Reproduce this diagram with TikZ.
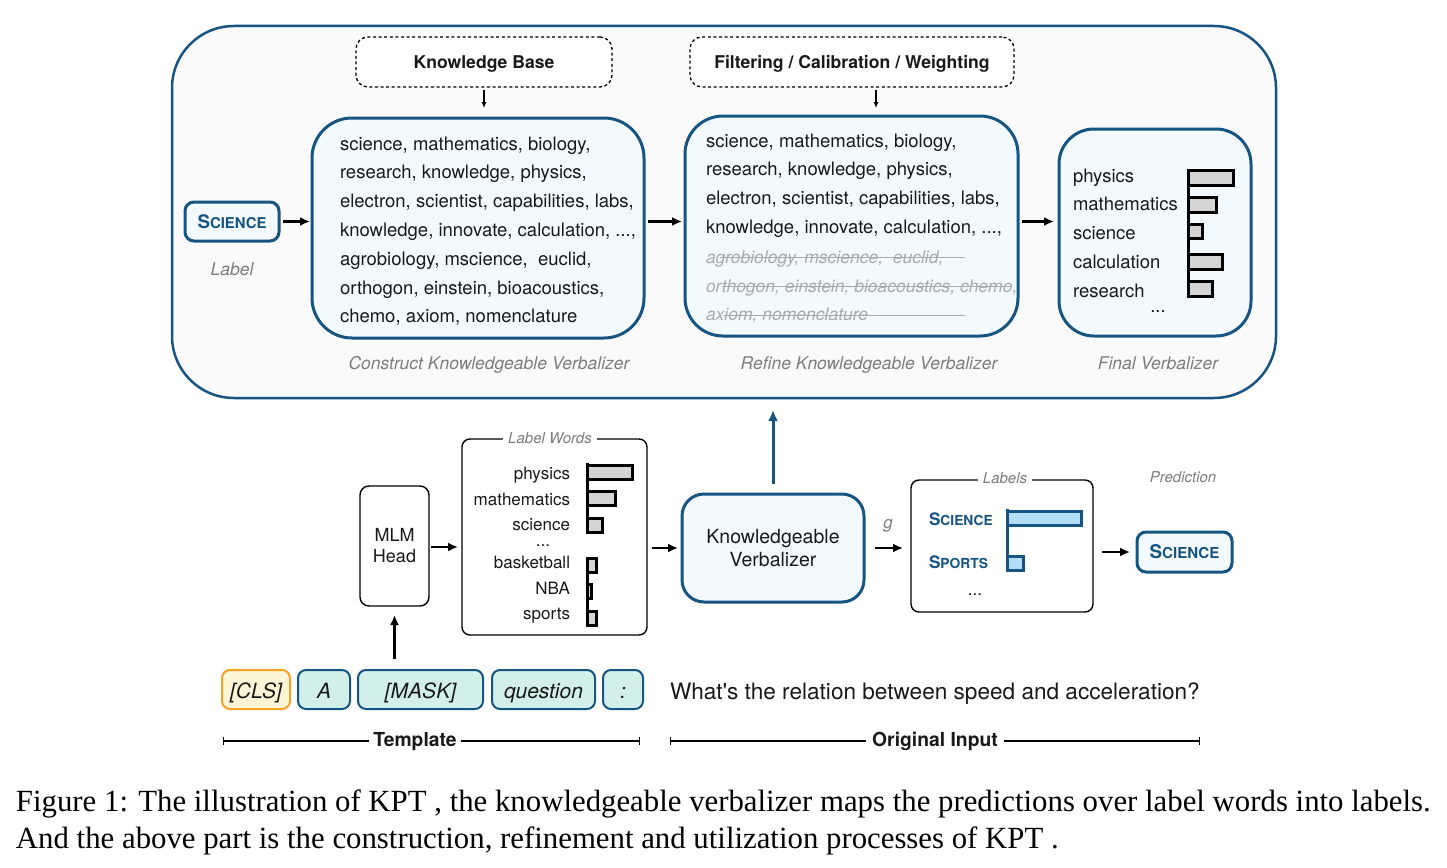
\documentclass[tikz,border=0pt]{standalone}
\usepackage{fontspec}
\setmainfont{Liberation Serif}
\newfontfamily\hv{TeX Gyre Heros}
\usetikzlibrary{arrows.meta}
\definecolor{kblue}{RGB}{22,84,130}
\definecolor{kfill}{RGB}{243,250,254}
\definecolor{kgray}{RGB}{125,125,125}
\definecolor{kstrike}{RGB}{170,170,170}
\definecolor{kteal}{RGB}{211,239,233}
\definecolor{korange}{RGB}{246,163,35}
\definecolor{kyellow}{RGB}{253,245,214}
\definecolor{kbar}{RGB}{212,212,212}
\definecolor{kbluebar}{RGB}{180,222,248}
\definecolor{ktext}{RGB}{25,25,25}
\newcommand{\fsz}[1]{\fontsize{#1}{#1}\selectfont}
\newcommand{\smc}[4]{{\fsz{#1}#3}{\fsz{#2}#4}}
\newcommand{\tdots}{...}
\begin{document}
\begin{tikzpicture}[x=1pt,y=-1pt,
  every node/.style={inner sep=0pt, outer sep=0pt, text=ktext},
  bluebox/.style={draw=kblue, fill=kfill, line width=3pt},
  dashbox/.style={draw=black, line width=1.3pt, dash pattern=on 3pt off 2.6pt, rounded corners=12pt, fill=white, text height=14pt, text depth=2pt},
  blackbox/.style={draw=black, line width=1.4pt, rounded corners=9pt, fill=white},
  tokbox/.style={draw=kblue, fill=kteal, line width=2pt, rounded corners=8pt, minimum height=39pt, font=\hv\itshape\fsz{21}, text height=19pt, text depth=1.4pt},
  arr/.style={-{Latex[length=10pt,width=9pt]}, line width=2.2pt, black},
  smallarr/.style={-{Latex[length=6pt,width=5pt]}, line width=1.2pt, black},
  bluearr/.style={-{Latex[length=11pt,width=10pt]}, line width=3pt, kblue},
  graylab/.style={text=kgray, font=\hv\itshape\fsz{17.5}},
  boxtext/.style={anchor=base west, font=\hv\fsz{18.5}},
  striketext/.style={anchor=base west, font=\hv\itshape\fsz{17.5}, text=kstrike},
  bar/.style={draw=black, fill=kbar, line width=3pt},
  bluebarst/.style={draw=kblue, fill=kbluebar, line width=3pt},
  sclab/.style={text=kblue, font=\hv\bfseries},
  bracket/.style={line width=1.2pt, black}
]
\useasboundingbox (0,0) rectangle (1447,867);

% outer box
\node[draw=kblue, line width=2.5pt, rounded corners=62pt, fill=white!98!black, minimum width=1104pt, minimum height=372pt] (outer) at (724,212) {};

% dashed boxes
\node[dashbox, minimum width=256pt, minimum height=50pt, font=\hv\bfseries\fsz{17.6}] (kb) at (484,62) {Knowledge Base};
\node[dashbox, minimum width=324pt, minimum height=50pt, font=\hv\bfseries\fsz{17.6}] (filt) at (852,62) {Filtering / Calibration / Weighting};

% main blue boxes
\node[bluebox, rounded corners=40pt, minimum width=332pt, minimum height=220pt] (construct) at (478,228) {};
\node[bluebox, rounded corners=38pt, minimum width=333pt, minimum height=220pt] (refine) at (851.5,226) {};
\node[bluebox, rounded corners=35pt, minimum width=192pt, minimum height=207pt] (final) at (1155,232.5) {};
\node[bluebox, sclab, rounded corners=9pt, minimum width=94pt, minimum height=39pt] (sci) at (232,221.5) {\smc{18.7}{14.9}{S}{CIENCE}};
\node[graylab] (scilab) at (232,269) {Label};

% construct text
\foreach \t [count=\i] in {{science, mathematics, biology,},{research, knowledge, physics,},{electron, scientist, capabilities, labs,},{knowledge, innovate, calculation, \tdots,},{agrobiology, mscience,\ \ euclid,},{orthogon, einstein, bioacoustics,},{chemo, axiom, nomenclature}}
  \node[boxtext] (c\i) at ({340},{150+(\i-1)*28.8}) {\t};

% refine text
\foreach \t [count=\i] in {{science, mathematics, biology,},{research, knowledge, physics,},{electron, scientist, capabilities, labs,},{knowledge, innovate, calculation, \tdots,}}
  \node[boxtext] (r\i) at ({706},{147+(\i-1)*28.8}) {\t};
\foreach \t [count=\i from 5] in {{agrobiology, mscience,\ \ euclid,},{orthogon, einstein, bioacoustics, chemo,},{axiom, nomenclature}}
  \node[striketext] (r\i) at ({706},{148+(\i-1)*28.8}) {\t};
\draw[kstrike, line width=1.1pt] (720,257.5) -- (965,257.5);
\draw[kstrike, line width=1.1pt] (722,286.3) -- (1012,286.3);
\draw[kstrike, line width=1.1pt] (723,315.1) -- (965,315.1);

% final verbalizer
\foreach \t [count=\i] in {physics,mathematics,science,calculation,research}
  \node[boxtext] (f\i) at ({1073},{182+(\i-1)*28.8}) {\t};
\node[font=\hv\fsz{18.5}] (fdots) at (1158,312) {\tdots};
\draw[line width=3pt] (1188,169) -- (1188,297);
\draw[bar] (1188,170.5) rectangle (1233,185);
\draw[bar] (1188,197.5) rectangle (1216,212);
\draw[bar] (1188,224.5) rectangle (1202,238);
\draw[bar] (1188,254) rectangle (1222,269);
\draw[bar] (1188,281.5) rectangle (1212,296);

% captions of stages
\node[graylab] (cap1) at (489,365) {Construct Knowledgeable Verbalizer};
\node[graylab] (cap2) at (869,365) {Refine Knowledgeable Verbalizer};
\node[graylab] (cap3) at (1158,363) {Final Verbalizer};

% arrows in top part
\draw[smallarr, shorten <=3pt, shorten >=10pt] (kb.south) -- (kb.south |- construct.north);
\draw[smallarr, shorten <=3pt, shorten >=8pt] ([xshift=24pt]filt.south) -- ([xshift=24pt]filt.south |- refine.north);
\draw[arr, shorten <=4pt, shorten >=2pt] (sci.east) -- (construct.west |- sci.east);
\draw[arr, shorten <=4pt, shorten >=3pt] (construct.east |- sci.east) -- (refine.west |- sci.east);
\draw[arr, shorten <=4pt, shorten >=5pt] (refine.east |- sci.east) -- (final.west |- sci.east);

% bottom part
\node[blackbox, minimum width=69pt, minimum height=120pt, align=center, font=\hv\fsz{18}] (mlm) at (394.5,546) {MLM\\[3pt]Head};
\node[blackbox, rounded corners=8pt, minimum width=185pt, minimum height=196pt] (lw) at (554.5,537) {};
\node[graylab, font=\hv\itshape\fsz{15}, fill=white, inner xsep=5pt, inner ysep=2pt] (lwt) at (550,438) {Label Words};
\foreach \t/\yy [count=\i] in {physics/479,mathematics/505,science/530,basketball/568,NBA/594,sports/619}
  \node[anchor=base east, font=\hv\fsz{17}] (w\i) at (570,\yy) {\t};
\node[anchor=base, font=\hv\fsz{17}] (wdots) at (543,546) {\tdots};
\draw[line width=3pt] (587,463) -- (587,533);
\draw[line width=3pt] (587,557) -- (587,627);
\draw[bar] (587,465) rectangle (632,479);
\draw[bar] (587,491.5) rectangle (615,505);
\draw[bar] (587,518) rectangle (602,532);
\draw[bar] (587,558.5) rectangle (596,572);
\draw[bar] (587,584.5) rectangle (591,598);
\draw[bar] (587,611) rectangle (596,625.5);

\node[bluebox, rounded corners=22pt, minimum width=182pt, minimum height=108pt, align=center, font=\hv\fsz{19.5}] (kv) at (773,548) {Knowledgeable\\[3pt]Verbalizer};
\node[text=kgray, font=\hv\itshape\fsz{17}] (g) at (888,526) {g};

\node[blackbox, rounded corners=8pt, minimum width=182pt, minimum height=132pt] (labels) at (1002,546) {};
\node[graylab, font=\hv\itshape\fsz{15}, fill=white, inner xsep=5pt, inner ysep=2pt] (labt) at (1005,478) {Labels};
\node[sclab, anchor=base west] (lsci) at (929,525) {\smc{17.2}{13.8}{S}{CIENCE}};
\node[sclab, anchor=base west] (lspo) at (929,568) {\smc{17.2}{13.8}{S}{PORTS}};
\node[font=\hv\fsz{17}] (ldots) at (975,595) {\tdots};
\draw[kblue, line width=3pt] (1007,509) -- (1007,572);
\draw[bluebarst] (1007,511) rectangle (1081,525);
\draw[bluebarst] (1007,556) rectangle (1023,570);

\node[graylab, font=\hv\itshape\fsz{15}] (predt) at (1183,477) {Prediction};
\node[bluebox, sclab, rounded corners=9pt, minimum width=95pt, minimum height=40pt] (pred) at (1184.5,552) {\smc{18.9}{15.1}{S}{CIENCE}};

% tokens
\node[tokbox, draw=korange, fill=kyellow, minimum width=68pt] (cls) at (256,689.5) {[CLS]};
\node[tokbox, minimum width=52pt] (ta) at (324,689.5) {A};
\node[tokbox, minimum width=125pt] (mask) at (420.5,689.5) {[MASK]};
\node[tokbox, minimum width=103pt] (quest) at (543.5,689.5) {question};
\node[tokbox, minimum width=40pt] (colon) at (623,689.5) {:};
\node[anchor=base west, font=\hv\fsz{22.6}] (sent) at (670,699) {What's the relation between speed and acceleration?};

% bottom arrows
\draw[arr, shorten <=11pt, shorten >=9pt] (mlm.south |- mask.north) -- (mlm.south);
\draw[arr, shorten <=2pt, shorten >=4pt] (mlm.east |- 0,547) -- (lw.west |- 0,547);
\draw[arr, shorten <=5pt, shorten >=4pt] (lw.east |- kv.west) -- (kv.west);
\draw[arr, shorten <=11pt, shorten >=8pt] (kv.east) -- (labels.west |- kv.east);
\draw[arr, shorten <=9pt, shorten >=7pt] (labels.east |- pred.west) -- (pred.west);
\draw[bluearr, shorten <=10pt, shorten >=12pt] (kv.north) -- (kv.north |- outer.south);

% brackets
\node[anchor=base, font=\hv\bfseries\fsz{19.3}] (tpl) at (415,746) {Template};
\coordinate (tl) at (223,741);
\coordinate (tr) at (640,741);
\draw[bracket, {Bar[width=8pt]}-] (tl) -- ([xshift=-4pt]tl -| tpl.west);
\draw[bracket, -{Bar[width=8pt]}] ([xshift=4pt]tr -| tpl.east) -- (tr);
\node[anchor=base, font=\hv\bfseries\fsz{19.3}] (oin) at (935,746) {Original Input};
\coordinate (ol) at (670,741);
\coordinate (or) at (1200,741);
\draw[bracket, {Bar[width=8pt]}-] (ol) -- ([xshift=-6pt]ol -| oin.west);
\draw[bracket, -{Bar[width=8pt]}] ([xshift=6pt]or -| oin.east) -- (or);

% figure caption
\node[anchor=base west, font=\rmfamily\fsz{30.8}, text=black] (fig1) at (16,811) {Figure 1: The illustration of KPT , the knowledgeable verbalizer maps the predictions over label words into labels.};
\node[anchor=base west, font=\rmfamily\fsz{30.8}, text=black] (fig2) at (16,848) {And the above part is the construction, refinement and utilization processes of KPT .};
\end{tikzpicture}
\end{document}
